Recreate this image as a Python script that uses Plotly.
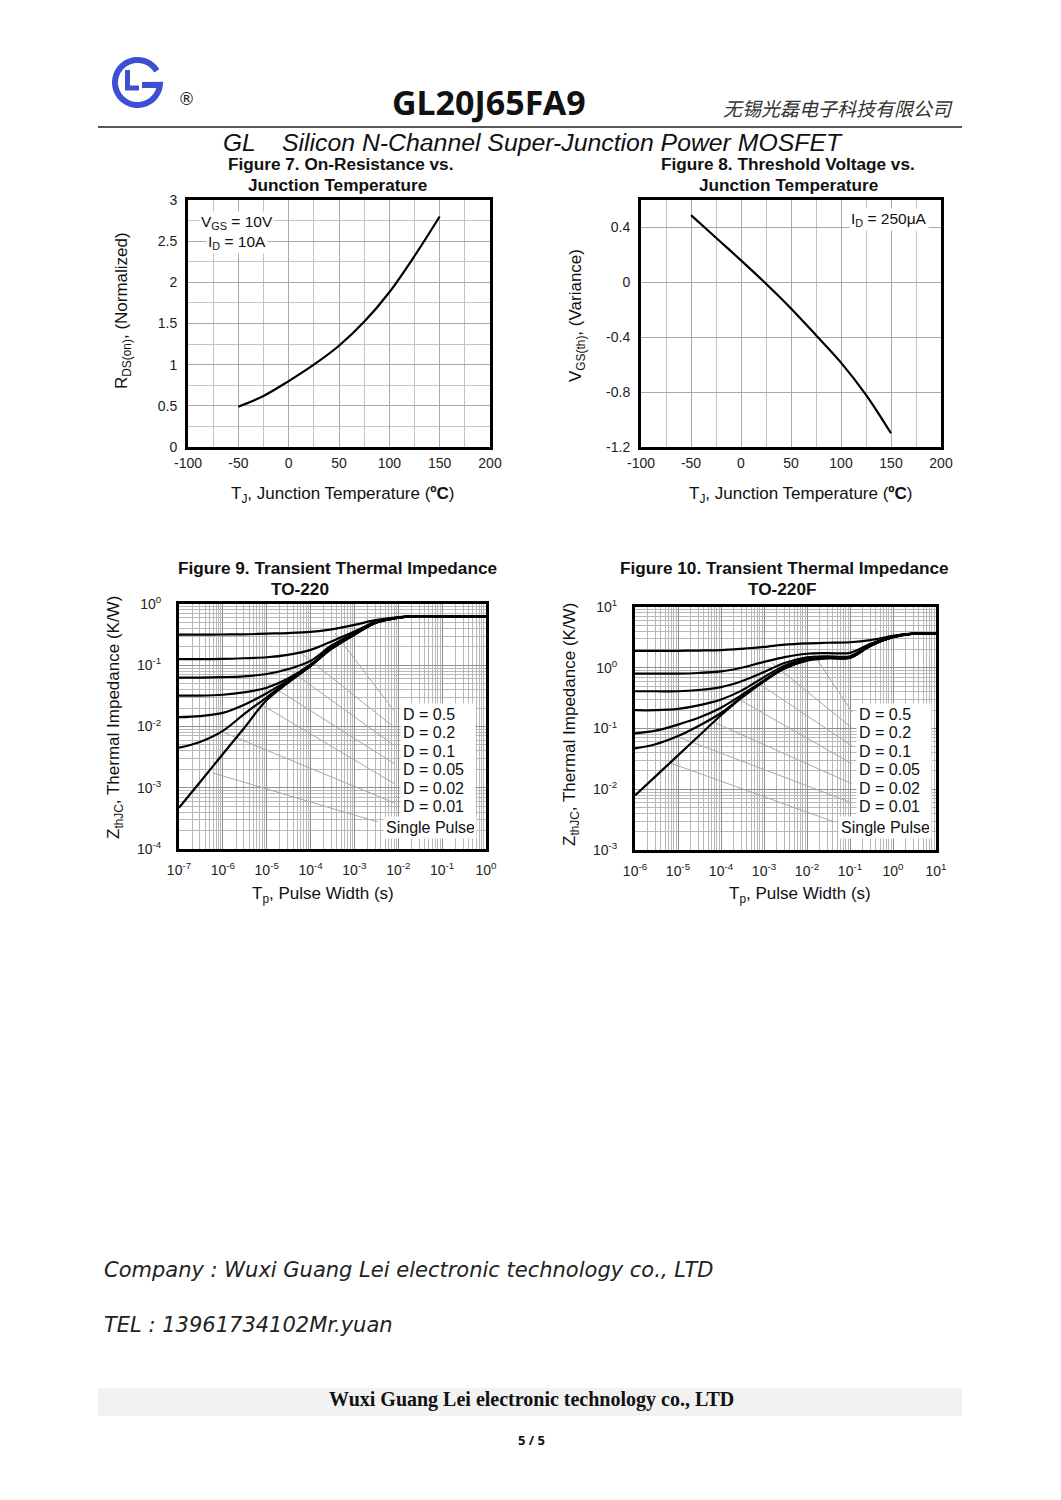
import math
import plotly.graph_objects as go

W, H = 1061, 1500
OFF = 8  # page body margin of the browser
FONT = "Liberation Sans, Arial, sans-serif"

# ---------------- data ----------------
fig7_tj = [-50, -25, 0, 25, 50, 75, 100, 125, 150]
fig7_rds = [0.49, 0.62, 0.80, 1.00, 1.23, 1.52, 1.88, 2.32, 2.80]

fig8_tj = [-50, -25, 0, 25, 50, 75, 100, 125, 150]
fig8_vth = [0.49, 0.325, 0.16, -0.01, -0.19, -0.385, -0.585, -0.82, -1.10]

lin_xticks = [-100, -50, 0, 50, 100, 150, 200]
lin_xtext = ["-100", "-50", "0", "50", "100", "150", "200"]
fig7_yticks = [0, 0.5, 1, 1.5, 2, 2.5, 3]
fig7_ytext = ["0", "0.5", "1", "1.5", "2", "2.5", "3"]
fig8_yticks = [-1.2, -0.8, -0.4, 0, 0.4]
fig8_ytext = ["-1.2", "-0.8", "-0.4", "0", "0.4"]

fig9_tp = [1e-7, 3e-7, 1e-6, 3e-6, 1e-5, 3e-5, 1e-4, 3e-4, 1e-3, 3e-3, 1e-2, 2e-2, 1e-1, 1e0]
fig9_d05 = [0.316, 0.316, 0.318, 0.320, 0.328, 0.335, 0.350, 0.385, 0.455, 0.545, 0.612, 0.630, 0.630, 0.630]
fig9_d02 = [0.126, 0.126, 0.127, 0.130, 0.135, 0.148, 0.178, 0.245, 0.355, 0.512, 0.605, 0.630, 0.630, 0.630]
fig9_d01 = [0.063, 0.063, 0.064, 0.066, 0.072, 0.086, 0.118, 0.210, 0.335, 0.500, 0.600, 0.630, 0.630, 0.630]
fig9_d005 = [0.032, 0.032, 0.033, 0.036, 0.043, 0.060, 0.103, 0.198, 0.325, 0.495, 0.598, 0.630, 0.630, 0.630]
fig9_d002 = [0.0142, 0.0148, 0.0167, 0.0225, 0.035, 0.056, 0.099, 0.190, 0.318, 0.492, 0.597, 0.630, 0.630, 0.630]
fig9_d001 = [0.0045, 0.0056, 0.0085, 0.0158, 0.030, 0.054, 0.098, 0.187, 0.316, 0.491, 0.597, 0.630, 0.630, 0.630]
fig9_sp = [0.00047, 0.00123, 0.00355, 0.0093, 0.027, 0.051, 0.097, 0.185, 0.315, 0.490, 0.597, 0.630, 0.630, 0.630]

fig10_tp = [1e-6, 3e-6, 1e-5, 3e-5, 1e-4, 3e-4, 1e-3, 3e-3, 1e-2, 3e-2, 1e-1, 3e-1, 1e0, 3e0, 1e1]
fig10_d05 = [1.90, 1.90, 1.90, 1.92, 1.95, 2.05, 2.20, 2.40, 2.52, 2.58, 2.63, 2.85, 3.35, 3.65, 3.65]
fig10_d02 = [0.80, 0.80, 0.80, 0.82, 0.87, 1.00, 1.25, 1.50, 1.70, 1.74, 1.76, 2.48, 3.30, 3.65, 3.65]
fig10_d01 = [0.41, 0.41, 0.41, 0.43, 0.48, 0.60, 0.85, 1.20, 1.48, 1.54, 1.55, 2.40, 3.25, 3.65, 3.65]
fig10_d005 = [0.20, 0.20, 0.21, 0.24, 0.30, 0.42, 0.70, 1.08, 1.42, 1.49, 1.50, 2.36, 3.22, 3.65, 3.65]
fig10_d002 = [0.083, 0.092, 0.116, 0.150, 0.220, 0.355, 0.620, 1.00, 1.36, 1.46, 1.47, 2.32, 3.20, 3.65, 3.65]
fig10_d001 = [0.047, 0.055, 0.075, 0.110, 0.180, 0.328, 0.605, 0.98, 1.33, 1.44, 1.46, 2.30, 3.18, 3.65, 3.65]
fig10_sp = [0.0079, 0.0163, 0.0361, 0.0746, 0.165, 0.319, 0.597, 0.97, 1.31, 1.43, 1.45, 2.28, 3.18, 3.65, 3.65]

duty_labels = ["D = 0.5", "D = 0.2", "D = 0.1", "D = 0.05", "D = 0.02", "D = 0.01", "Single Pulse"]

# leader lines (label end -> curve point), data units
fig9_lead_x = [(8.4e-3, 3.6e-4), (8.4e-3, 5.7e-5), (8.4e-3, 2.9e-5), (8.4e-3, 1.0e-5),
               (8.4e-3, 6.0e-6), (8.4e-3, 1.0e-6), (3.4e-3, 6.0e-7)]
fig9_lead_y = [(0.0173, 0.336), (0.00946, 0.164), (0.0048, 0.090), (0.00244, 0.0513),
               (0.00115, 0.0251), (5.6e-4, 0.0081), (2.76e-4, 1.74e-3)]
fig10_lead_x = [(0.111, 0.0131), (0.111, 1.53e-3), (0.111, 7.2e-4), (0.111, 2.8e-4),
                (0.111, 6.5e-5), (0.111, 1.0e-5), (0.0425, 6.5e-6)]
fig10_lead_y = [(0.1875, 1.82), (0.102, 1.2), (0.0518, 0.562), (0.0262, 0.295),
                (0.0123, 0.1285), (0.00597, 0.0728), (0.00291, 0.0272)]

fig9_xticks = [1e-7, 1e-6, 1e-5, 1e-4, 1e-3, 1e-2, 1e-1, 1e0]
fig9_xtext = ["10<sup>-7</sup>", "10<sup>-6</sup>", "10<sup>-5</sup>", "10<sup>-4</sup>",
              "10<sup>-3</sup>", "10<sup>-2</sup>", "10<sup>-1</sup>", "10<sup>0</sup>"]
fig9_yticks = [1e-4, 1e-3, 1e-2, 1e-1, 1e0]
fig9_ytext = ["10<sup>-4</sup>", "10<sup>-3</sup>", "10<sup>-2</sup>", "10<sup>-1</sup>", "10<sup>0</sup>"]
fig10_xticks = [1e-6, 1e-5, 1e-4, 1e-3, 1e-2, 1e-1, 1e0, 1e1]
fig10_xtext = ["10<sup>-6</sup>", "10<sup>-5</sup>", "10<sup>-4</sup>", "10<sup>-3</sup>",
               "10<sup>-2</sup>", "10<sup>-1</sup>", "10<sup>0</sup>", "10<sup>1</sup>"]
fig10_yticks = [1e-3, 1e-2, 1e-1, 1e0, 1e1]
fig10_ytext = ["10<sup>-3</sup>", "10<sup>-2</sup>", "10<sup>-1</sup>", "10<sup>0</sup>", "10<sup>1</sup>"]


# ---------------- helpers ----------------
def PX(x):
    return (x - OFF) / W


def PY(y):
    return 1 - (y - OFF) / H


fig = go.Figure()
annotations = []
shapes = []


def text(t, x, y, size=17, bold=False, xanchor="center", yanchor="middle", angle=0,
         family=FONT, color="#111", bg=None, italic=False, width=None, pad=1):
    if bold:
        t = "<b>" + t + "</b>"
    if italic:
        t = "<i>" + t + "</i>"
    a = dict(text=t, x=PX(x), y=PY(y), xref="paper", yref="paper", showarrow=False,
             xanchor=xanchor, yanchor=yanchor, textangle=angle,
             font=dict(family=family, size=size, color=color))
    if bg:
        a["bgcolor"] = bg
        a["borderpad"] = pad
    if width:
        a["width"] = width
        a["align"] = "left"
    annotations.append(a)


def curve(x, y, xa, ya, width=2.2, smoothing=1.0):
    fig.add_trace(go.Scatter(x=x, y=y, xaxis=xa, yaxis=ya, mode="lines",
                             line=dict(color="black", width=width, shape="spline", smoothing=smoothing),
                             showlegend=False, hoverinfo="skip"))


def leaders(xs, ys, xa, ya):
    for (xa0, xa1), (ya0, ya1) in zip(xs, ys):
        fig.add_trace(go.Scatter(x=[xa0, xa1], y=[ya0, ya1], xaxis=xa, yaxis=ya, mode="lines",
                                 line=dict(color="#a8a8a8", width=1), showlegend=False,
                                 hoverinfo="skip"))


# ---------------- traces ----------------
curve(fig7_tj, fig7_rds, "x", "y")
curve(fig8_tj, fig8_vth, "x2", "y2")

leaders(fig9_lead_x, fig9_lead_y, "x3", "y3")
for s in [fig9_d05, fig9_d02, fig9_d01, fig9_d005, fig9_d002, fig9_d001, fig9_sp]:
    curve(fig9_tp, s, "x3", "y3")

leaders(fig10_lead_x, fig10_lead_y, "x4", "y4")
for s in [fig10_d05, fig10_d02, fig10_d01, fig10_d005, fig10_d002, fig10_d001, fig10_sp]:
    curve(fig10_tp, s, "x4", "y4", smoothing=0.9)

# ---------------- axes ----------------
tickfont = dict(family=FONT, size=14, color="#222")
frame = dict(showline=True, linewidth=3, linecolor="black", mirror=True, ticks="",
             zeroline=False, tickfont=tickfont, fixedrange=True, automargin=False)

lin_minor_grid = "#c4c4c4"
lin_grid = "#aaaaaa"

fig.update_layout(
    xaxis=dict(domain=[PX(188), PX(490)], anchor="y", range=[-100, 200],
               tickvals=lin_xticks, ticktext=lin_xtext,
               showgrid=True, gridcolor=lin_grid, gridwidth=1,
               minor=dict(dtick=25, tick0=-100, showgrid=True, gridcolor=lin_minor_grid),
               ticklabelstandoff=1, **frame),
    yaxis=dict(domain=[PY(447), PY(200)], anchor="x", range=[0, 3],
               tickvals=fig7_yticks, ticktext=fig7_ytext,
               showgrid=True, gridcolor=lin_grid,
               minor=dict(dtick=0.25, showgrid=True, gridcolor=lin_minor_grid),
               ticklabelstandoff=5, **frame),
    xaxis2=dict(domain=[PX(641), PX(941)], anchor="y2", range=[-100, 200],
                tickvals=lin_xticks, ticktext=lin_xtext,
                showgrid=True, gridcolor=lin_grid,
                minor=dict(dtick=25, tick0=-100, showgrid=True, gridcolor=lin_minor_grid),
                ticklabelstandoff=1, **frame),
    yaxis2=dict(domain=[PY(447), PY(200)], anchor="x2", range=[-1.2, 0.6],
                tickvals=fig8_yticks, ticktext=fig8_ytext,
                showgrid=True, gridcolor=lin_grid, ticklabelstandoff=5, **frame),
)

log_grid = "#8f8f8f"
log_minor = "#b8b8b8"


def minor_vals(e0, e1):
    return [m * 10.0 ** e for e in range(e0, e1) for m in range(2, 10)]


fig.update_layout(
    xaxis3=dict(domain=[PX(179), PX(486)], anchor="y3", type="log", range=[-7, 0],
                tickvals=fig9_xticks, ticktext=fig9_xtext, showgrid=True, gridcolor=log_grid,
                minor=dict(tickvals=minor_vals(-7, 0), showgrid=True, gridcolor=log_minor),
                ticklabelstandoff=6, **frame),
    yaxis3=dict(domain=[PY(849), PY(604)], anchor="x3", type="log", range=[-4, 0],
                tickvals=fig9_yticks, ticktext=fig9_ytext, showgrid=True, gridcolor=log_grid,
                minor=dict(tickvals=minor_vals(-4, 0), showgrid=True, gridcolor=log_minor),
                ticklabelstandoff=12, **frame),
    xaxis4=dict(domain=[PX(635), PX(936)], anchor="y4", type="log", range=[-6, 1],
                tickvals=fig10_xticks, ticktext=fig10_xtext, showgrid=True, gridcolor=log_grid,
                minor=dict(tickvals=minor_vals(-6, 1), showgrid=True, gridcolor=log_minor),
                ticklabelstandoff=6, **frame),
    yaxis4=dict(domain=[PY(850), PY(607)], anchor="x4", type="log", range=[-3, 1],
                tickvals=fig10_yticks, ticktext=fig10_ytext, showgrid=True, gridcolor=log_grid,
                minor=dict(tickvals=minor_vals(-3, 1), showgrid=True, gridcolor=log_minor),
                ticklabelstandoff=12, **frame),
)

# ---------------- text: chart titles, axis titles, legends ----------------
TS = 17.2
text("Figure 7. On-Resistance vs.", 340, 164, size=TS, bold=True)
text("Junction Temperature", 337, 185, size=TS, bold=True)
text("Figure 8. Threshold Voltage vs.", 788, 164, size=TS, bold=True)
text("Junction Temperature", 788, 185, size=TS, bold=True)
text("Figure 9. Transient Thermal Impedance", 337, 568, size=TS, bold=True)
text("TO-220", 300, 589, size=TS, bold=True)
text("Figure 10. Transient Thermal Impedance", 784, 568, size=TS, bold=True)
text("TO-220F", 782, 589, size=TS, bold=True)

text("V<sub>GS</sub> = 10V", 237, 223, size=15.5, bg="white")
text("I<sub>D</sub> = 10A", 237, 242, size=15.5, bg="white")
text("I<sub>D</sub> = 250μA", 889, 219, size=15.5, bg="white")

text("R<sub>DS(on)</sub>, (Normalized)", 123, 311, size=17, angle=-90)
text("T<sub>J</sub>, Junction Temperature (<b>ºC</b>)", 343, 495, size=17)
text("V<sub>GS(th)</sub>, (Variance)", 577, 316, size=17, angle=-90)
text("T<sub>J</sub>, Junction Temperature (<b>ºC</b>)", 801, 495, size=17)
text("Z<sub>thJC</sub>, Thermal Impedance (K/W)", 115, 718, size=17, angle=-90)
text("T<sub>p</sub>, Pulse Width (s)", 323, 895, size=17)
text("Z<sub>thJC</sub>, Thermal Impedance (K/W)", 571, 725, size=17, angle=-90)
text("T<sub>p</sub>, Pulse Width (s)", 800, 895, size=17)

legend_y = [714, 732, 751, 769, 788, 807, 827]
for lab, yy in zip(duty_labels, legend_y):
    sp = lab == "Single Pulse"
    x9 = 383 if sp else 400
    x10 = 838 if sp else 856
    wd = 88 if sp else 70
    text(lab, x9, yy, size=16, xanchor="left", bg="white", width=wd, pad=2)
    text(lab, x10, yy, size=16, xanchor="left", bg="white", width=wd, pad=2)

# ---------------- page header ----------------
BLUE = "#3d4fd3"
cx, cy, r = 137.5, 82.5, 22.5
pts = []
for i in range(0, 81):
    ang = math.radians(31 + (354 - 31) * i / 80)
    pts.append((cx + r * math.cos(ang), cy - r * math.sin(ang)))
pts.append((142.0, 85.0))
path = "M " + " L ".join(f"{PX(a):.5f},{PY(b):.5f}" for a, b in pts)
shapes.append(dict(type="path", xref="paper", yref="paper", path=path,
                   line=dict(color=BLUE, width=6)))
lpath = f"M {PX(127.5):.5f},{PY(70):.5f} L {PX(127.5):.5f},{PY(88):.5f} L {PX(139):.5f},{PY(88):.5f}"
shapes.append(dict(type="path", xref="paper", yref="paper", path=lpath,
                   line=dict(color=BLUE, width=5)))

text("®", 186, 99, size=17, family="DejaVu Sans", color="#222")
text("GL20J65FA9", 489, 102, size=34, bold=True, family="Noto Sans, Open Sans, sans-serif", color="#111")
text("无锡光磊电子科技有限公司", 838, 107, size=19, italic=True,
     family="Noto Sans CJK SC, sans-serif", color="#333")
shapes.append(dict(type="line", xref="paper", yref="paper", x0=PX(98), x1=PX(962),
                   y0=PY(127), y1=PY(127), line=dict(color="#222", width=1.5)))
text("GL", 221, 143, size=24.5, italic=True, xanchor="left", color="#111")
text("Silicon N-Channel Super-Junction Power MOSFET", 280, 143, size=24.8, italic=True,
     xanchor="left", color="#111")

# ---------------- page footer ----------------
text("Company : Wuxi Guang Lei electronic technology co., LTD", 102, 1270, size=21, italic=True,
     xanchor="left", family="DejaVu Sans, sans-serif", color="#222")
text("TEL : 13961734102Mr.yuan", 102, 1325, size=21, italic=True,
     xanchor="left", family="DejaVu Sans, sans-serif", color="#222")
shapes.append(dict(type="rect", xref="paper", yref="paper", x0=PX(98), x1=PX(962),
                   y0=PY(1416), y1=PY(1388), fillcolor="#f2f2f2", line=dict(width=0),
                   layer="below"))
text("Wuxi Guang Lei electronic technology co., LTD", 531, 1399, size=20, bold=True,
     family="Liberation Serif, Times New Roman, serif", color="#111")
text("5 / 5", 531, 1440, size=13, bold=True, family="Noto Sans, sans-serif", color="#111")

fig.update_layout(width=W, height=H, margin=dict(l=0, r=0, t=0, b=0, pad=0, autoexpand=False),
                  paper_bgcolor="white", plot_bgcolor="white",
                  annotations=annotations, shapes=shapes, showlegend=False)

fig.write_html("out.html")
